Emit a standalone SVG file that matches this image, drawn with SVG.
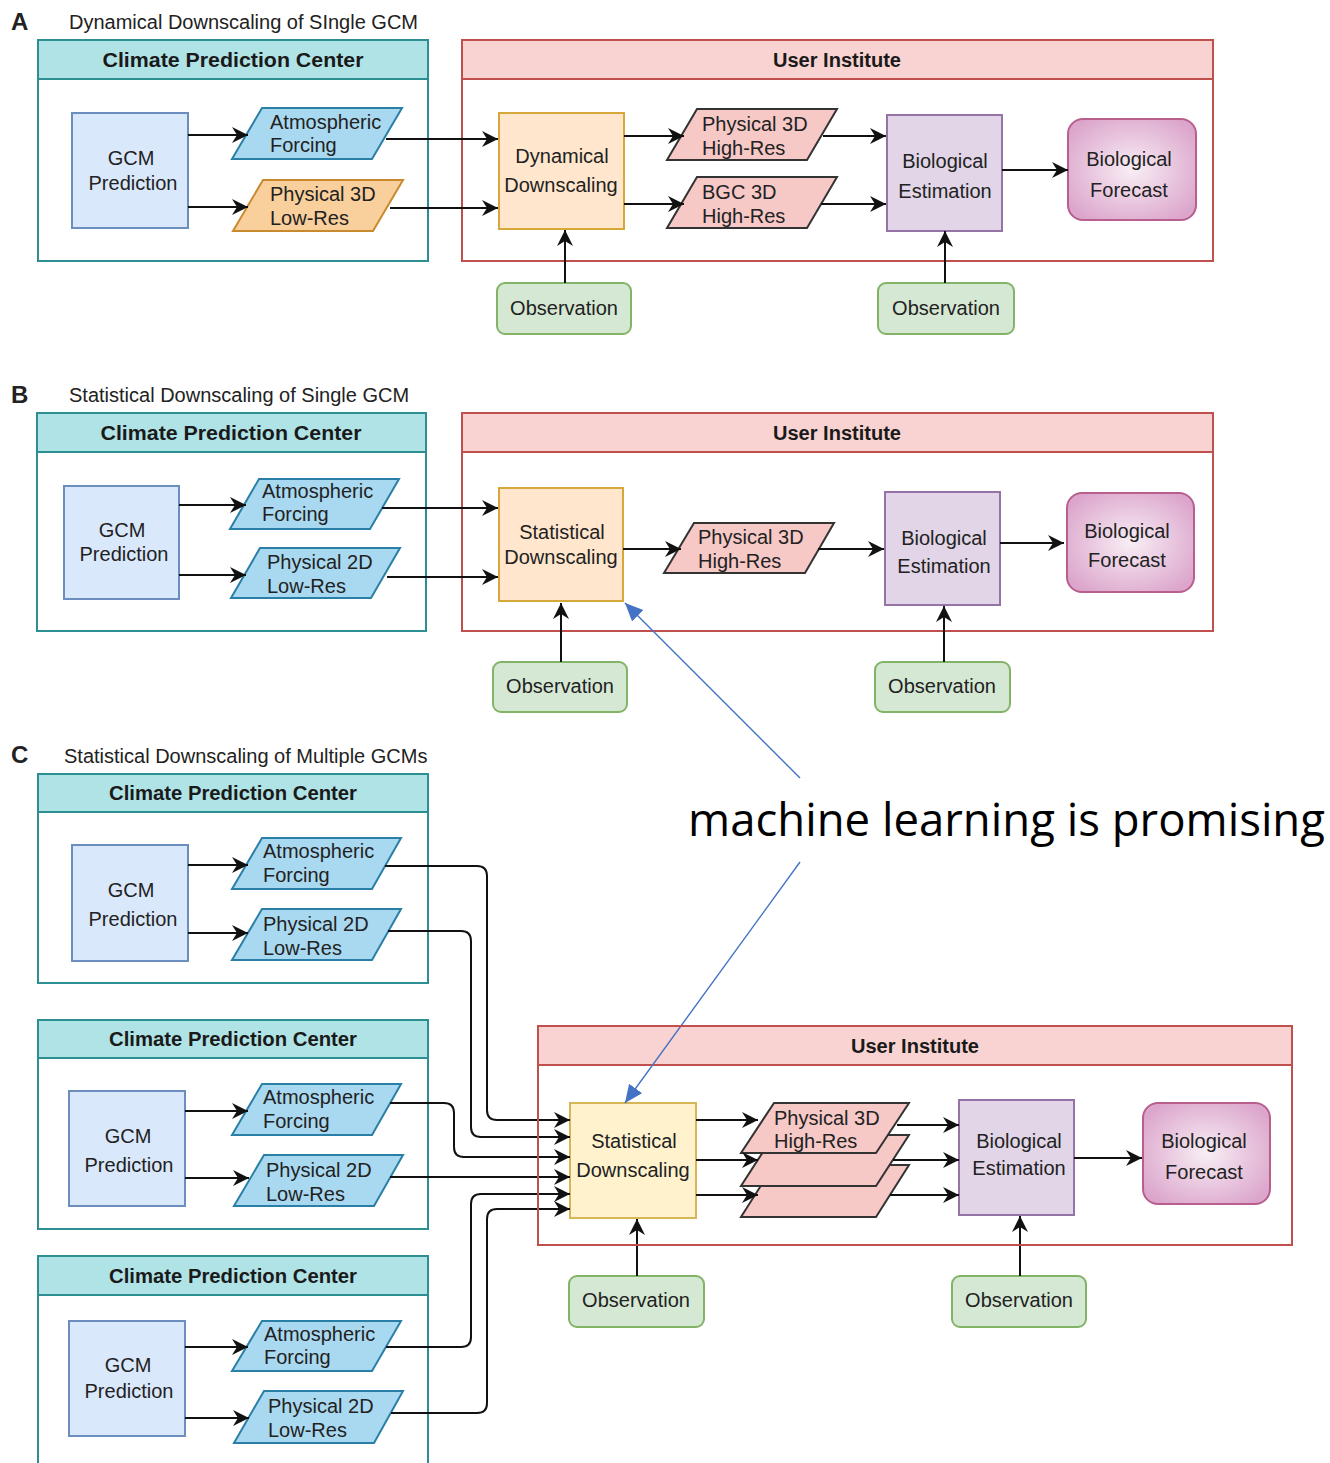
<svg xmlns="http://www.w3.org/2000/svg" width="1330" height="1463" viewBox="0 0 1330 1463">
<style>
.t{font-family:"Liberation Sans",Arial,sans-serif;font-size:20px;fill:#222}
.c{text-anchor:middle}
.hb{font-family:"Liberation Sans",Arial,sans-serif;font-size:20px;font-weight:bold;fill:#1a1a1a;text-anchor:middle}
.lt{font-family:"Liberation Sans",Arial,sans-serif;font-size:24px;font-weight:bold;fill:#222}
.cpch{fill:#b0e3e6;stroke:#2e8f92;stroke-width:2}
.cpcb{fill:#fff;stroke:#2e8f92;stroke-width:2}
.uih{fill:#f8d3d1;stroke:#c0504d;stroke-width:2}
.uib{fill:none;stroke:#c0504d;stroke-width:2}
.gcm{fill:#dae8fc;stroke:#6c8ebf;stroke-width:2}
.pb{fill:#a9d9f0;stroke:#2a7fa6;stroke-width:2}
.po{fill:#f9cf9c;stroke:#c88a2e;stroke-width:2}
.pp{fill:#f6c8c6;stroke:#333;stroke-width:2}
.dso{fill:#ffe6cc;stroke:#d6a83a;stroke-width:2}
.dsy{fill:#fff2cc;stroke:#d6b656;stroke-width:2}
.bio{fill:#e1d5e7;stroke:#9673a6;stroke-width:2}
.obs{fill:#d5e8d4;stroke:#82b366;stroke-width:2}
.fc{fill:url(#fcg);stroke:#b85f8e;stroke-width:2}
.e{fill:none;stroke:#111;stroke-width:2;marker-end:url(#ah)}
.bl{fill:none;stroke:#4472c4;stroke-width:1.4;marker-end:url(#bh)}
</style>
<defs>
<marker id="ah" markerUnits="userSpaceOnUse" markerWidth="17" markerHeight="16" refX="16" refY="8" orient="auto">
<path d="M0,0 L16,8 L0,16 L5,8 Z" fill="#111"/>
</marker>
<marker id="bh" markerUnits="userSpaceOnUse" markerWidth="20" markerHeight="18" refX="18" refY="8" orient="auto">
<path d="M0,0 L18,8 L0,16 Z" fill="#4472c4"/>
</marker>
<radialGradient id="fcg" cx="50%" cy="50%" r="60%">
<stop offset="0" stop-color="#f8eef5"/>
<stop offset="1" stop-color="#dca6cc"/>
</radialGradient>
</defs>
<rect width="1330" height="1463" fill="#fff"/>

<!-- Panel A -->
<g id="panelA-title">
<text class="lt" x="11" y="30">A</text>
<text class="t" x="69" y="29">Dynamical Downscaling of SIngle GCM</text>
</g>
<g id="A-cpc">
<rect class="cpcb" x="38" y="40" width="390" height="221"/>
<rect class="cpch" x="38" y="40" width="390" height="39"/>
<text class="hb" x="233" y="67" textLength="261" lengthAdjust="spacingAndGlyphs">Climate Prediction Center</text>
</g>
<g id="A-ui">
<rect class="uib" x="462" y="40" width="751" height="221"/>
<rect class="uih" x="462" y="40" width="751" height="39"/>
<text class="hb" x="837" y="67" textLength="128" lengthAdjust="spacingAndGlyphs">User Institute</text>
</g>
<g id="A-gcm"><rect class="gcm" x="72" y="113" width="116" height="115"/>
<text class="t c" x="131" y="165">GCM</text><text class="t c" x="133" y="190">Prediction</text></g>
<g id="A-atm"><polygon class="pb" points="262,108 402,108 372,159 232,159"/>
<text class="t" x="270" y="129">Atmospheric</text><text class="t" x="270" y="152">Forcing</text></g>
<g id="A-phys"><polygon class="po" points="263,180 403,180 373,231 233,231"/>
<text class="t" x="270" y="201">Physical 3D</text><text class="t" x="270" y="225">Low-Res</text></g>
<g id="A-dyn"><rect class="dso" x="499" y="113" width="125" height="116"/>
<text class="t c" x="562" y="163">Dynamical</text><text class="t c" x="561" y="192">Downscaling</text></g>
<g id="A-p3d"><polygon class="pp" points="697,109 837,109 807,160 667,160"/>
<text class="t" x="702" y="131">Physical 3D</text><text class="t" x="702" y="155">High-Res</text></g>
<g id="A-bgc"><polygon class="pp" points="697,177 837,177 807,228 667,228"/>
<text class="t" x="702" y="199">BGC 3D</text><text class="t" x="702" y="223">High-Res</text></g>
<g id="A-bio"><rect class="bio" x="887" y="115" width="115" height="116"/>
<text class="t c" x="945" y="168">Biological</text><text class="t c" x="945" y="198">Estimation</text></g>
<g id="A-fc"><rect class="fc" x="1068" y="119" width="128" height="101" rx="15"/>
<text class="t c" x="1129" y="166">Biological</text><text class="t c" x="1129" y="197">Forecast</text></g>
<g id="A-obs1"><rect class="obs" x="497" y="283" width="134" height="51" rx="8"/>
<text class="t c" x="564" y="315">Observation</text></g>
<g id="A-obs2"><rect class="obs" x="878" y="283" width="136" height="51" rx="8"/>
<text class="t c" x="946" y="315">Observation</text></g>

<!-- Panel B -->
<g id="panelB-title">
<text class="lt" x="11" y="403">B</text>
<text class="t" x="69" y="402">Statistical Downscaling of Single GCM</text>
</g>
<g id="B-cpc">
<rect class="cpcb" x="37" y="413" width="389" height="218"/>
<rect class="cpch" x="37" y="413" width="389" height="39"/>
<text class="hb" x="231" y="440" textLength="261" lengthAdjust="spacingAndGlyphs">Climate Prediction Center</text>
</g>
<g id="B-ui">
<rect class="uib" x="462" y="413" width="751" height="218"/>
<rect class="uih" x="462" y="413" width="751" height="39"/>
<text class="hb" x="837" y="440" textLength="128" lengthAdjust="spacingAndGlyphs">User Institute</text>
</g>
<g id="B-gcm"><rect class="gcm" x="64" y="486" width="115" height="113"/>
<text class="t c" x="122" y="537">GCM</text><text class="t c" x="124" y="561">Prediction</text></g>
<g id="B-atm"><polygon class="pb" points="259,479 399,479 370,529 230,529"/>
<text class="t" x="262" y="498">Atmospheric</text><text class="t" x="262" y="521">Forcing</text></g>
<g id="B-phys"><polygon class="pb" points="260,548 400,548 371,598 231,598"/>
<text class="t" x="267" y="569">Physical 2D</text><text class="t" x="267" y="593">Low-Res</text></g>
<g id="B-sds"><rect class="dso" x="499" y="488" width="124" height="113"/>
<text class="t c" x="562" y="539">Statistical</text><text class="t c" x="561" y="564">Downscaling</text></g>
<g id="B-p3d"><polygon class="pp" points="694,523 834,523 805,573 664,573"/>
<text class="t" x="698" y="544">Physical 3D</text><text class="t" x="698" y="568">High-Res</text></g>
<g id="B-bio"><rect class="bio" x="885" y="492" width="115" height="113"/>
<text class="t c" x="944" y="545">Biological</text><text class="t c" x="944" y="573">Estimation</text></g>
<g id="B-fc"><rect class="fc" x="1067" y="493" width="127" height="99" rx="15"/>
<text class="t c" x="1127" y="538">Biological</text><text class="t c" x="1127" y="567">Forecast</text></g>
<g id="B-obs1"><rect class="obs" x="493" y="662" width="134" height="50" rx="8"/>
<text class="t c" x="560" y="693">Observation</text></g>
<g id="B-obs2"><rect class="obs" x="875" y="662" width="135" height="50" rx="8"/>
<text class="t c" x="942" y="693">Observation</text></g>

<!-- Panel C -->
<g id="panelC-title">
<text class="lt" x="11" y="763">C</text>
<text class="t" x="64" y="763">Statistical Downscaling of Multiple GCMs</text>
</g>
<g id="C-cpc1">
<rect class="cpcb" x="38" y="774" width="390" height="209"/>
<rect class="cpch" x="38" y="774" width="390" height="38"/>
<text class="hb" x="233" y="800" textLength="248" lengthAdjust="spacingAndGlyphs">Climate Prediction Center</text>
</g>
<g id="C-gcm1"><rect class="gcm" x="72" y="845" width="116" height="116"/>
<text class="t c" x="131" y="897">GCM</text><text class="t c" x="133" y="926">Prediction</text></g>
<g id="C-atm1"><polygon class="pb" points="262,838 401,838 372,889 232,889"/>
<text class="t" x="263" y="858">Atmospheric</text><text class="t" x="263" y="882">Forcing</text></g>
<g id="C-phys1"><polygon class="pb" points="262,909 401,909 372,960 232,960"/>
<text class="t" x="263" y="931">Physical 2D</text><text class="t" x="263" y="955">Low-Res</text></g>

<g id="C-cpc2">
<rect class="cpcb" x="38" y="1020" width="390" height="209"/>
<rect class="cpch" x="38" y="1020" width="390" height="38"/>
<text class="hb" x="233" y="1046" textLength="248" lengthAdjust="spacingAndGlyphs">Climate Prediction Center</text>
</g>
<g id="C-gcm2"><rect class="gcm" x="69" y="1091" width="116" height="115"/>
<text class="t c" x="128" y="1143">GCM</text><text class="t c" x="129" y="1172">Prediction</text></g>
<g id="C-atm2"><polygon class="pb" points="262,1084 401,1084 372,1135 232,1135"/>
<text class="t" x="263" y="1104">Atmospheric</text><text class="t" x="263" y="1128">Forcing</text></g>
<g id="C-phys2"><polygon class="pb" points="264,1155 403,1155 374,1206 234,1206"/>
<text class="t" x="266" y="1177">Physical 2D</text><text class="t" x="266" y="1201">Low-Res</text></g>

<g id="C-cpc3">
<rect class="cpcb" x="38" y="1256" width="390" height="220"/>
<rect class="cpch" x="38" y="1256" width="390" height="39"/>
<text class="hb" x="233" y="1283" textLength="248" lengthAdjust="spacingAndGlyphs">Climate Prediction Center</text>
</g>
<g id="C-gcm3"><rect class="gcm" x="69" y="1321" width="116" height="115"/>
<text class="t c" x="128" y="1372">GCM</text><text class="t c" x="129" y="1398">Prediction</text></g>
<g id="C-atm3"><polygon class="pb" points="262,1321 401,1321 372,1371 232,1371"/>
<text class="t" x="264" y="1341">Atmospheric</text><text class="t" x="264" y="1364">Forcing</text></g>
<g id="C-phys3"><polygon class="pb" points="264,1391 403,1391 374,1443 234,1443"/>
<text class="t" x="268" y="1413">Physical 2D</text><text class="t" x="268" y="1437">Low-Res</text></g>

<g id="C-ui-head">
<rect class="uih" x="538" y="1026" width="754" height="39"/>
<text class="hb" x="915" y="1053" textLength="128" lengthAdjust="spacingAndGlyphs">User Institute</text>
</g>
<g id="C-sds"><rect class="dsy" x="570" y="1103" width="126" height="115"/>
<text class="t c" x="634" y="1148">Statistical</text><text class="t c" x="633" y="1177">Downscaling</text></g>
<g id="C-p3d-stack">
<polygon class="pp" points="774,1165 909,1165 876,1217 741,1217"/>
<polygon class="pp" points="774,1135 909,1135 876,1186 741,1186"/>
<polygon class="pp" points="774,1103 909,1103 876,1153 741,1153"/>
<text class="t" x="774" y="1125">Physical 3D</text><text class="t" x="774" y="1148">High-Res</text></g>
<g id="C-bio"><rect class="bio" x="959" y="1100" width="115" height="115"/>
<text class="t c" x="1019" y="1148">Biological</text><text class="t c" x="1019" y="1175">Estimation</text></g>
<g id="C-fc"><rect class="fc" x="1143" y="1103" width="127" height="101" rx="15"/>
<text class="t c" x="1204" y="1148">Biological</text><text class="t c" x="1204" y="1179">Forecast</text></g>
<g id="C-obs1"><rect class="obs" x="569" y="1276" width="135" height="51" rx="8"/>
<text class="t c" x="636" y="1307">Observation</text></g>
<g id="C-obs2"><rect class="obs" x="952" y="1276" width="134" height="51" rx="8"/>
<text class="t c" x="1019" y="1307">Observation</text></g>

<g id="connectors">
<!-- A -->
<path class="e" d="M188,135 H248"/>
<path class="e" d="M188,207 H248"/>
<path class="e" d="M386,139 H498"/>
<path class="e" d="M390,208 H498"/>
<path class="e" d="M624,136 H684"/>
<path class="e" d="M624,204 H684"/>
<path class="e" d="M823,136 H886"/>
<path class="e" d="M821,204 H886"/>
<path class="e" d="M1002,170 H1068"/>
<path class="e" d="M565,283 V230"/>
<path class="e" d="M945,283 V231"/>
<!-- B -->
<path class="e" d="M179,505 H246"/>
<path class="e" d="M179,575 H246"/>
<path class="e" d="M382,508 H498"/>
<path class="e" d="M387,577 H498"/>
<path class="e" d="M623,549 H681"/>
<path class="e" d="M818,549 H884"/>
<path class="e" d="M1000,543 H1064"/>
<path class="e" d="M561,662 V603"/>
<path class="e" d="M944,662 V606"/>
<!-- C -->
<path class="e" d="M188,865 H248"/>
<path class="e" d="M188,933 H248"/>
<path class="e" d="M185,1111 H248"/>
<path class="e" d="M185,1178 H249"/>
<path class="e" d="M185,1347 H248"/>
<path class="e" d="M185,1418 H249"/>
<path class="e" d="M385,866 H477 Q487,866 487,876 V1110 Q487,1120 497,1120 H570"/>
<path class="e" d="M388,931 H461 Q471,931 471,941 V1127 Q471,1137 481,1137 H570"/>
<path class="e" d="M390,1103 H444 Q454,1103 454,1113 V1147 Q454,1157 464,1157 H570"/>
<path class="e" d="M390,1177 H570"/>
<path class="e" d="M386,1347 H461 Q471,1347 471,1337 V1204 Q471,1194 481,1194 H570"/>
<path class="e" d="M391,1413 H477 Q487,1413 487,1403 V1219 Q487,1209 497,1209 H570"/>
<path class="e" d="M696,1120 H758"/>
<path class="e" d="M696,1160 H758"/>
<path class="e" d="M696,1195 H758"/>
<path class="e" d="M897,1125 H959"/>
<path class="e" d="M893,1160 H959"/>
<path class="e" d="M890,1195 H959"/>
<path class="e" d="M1074,1158 H1142"/>
<path class="e" d="M637,1276 V1219"/>
<path class="e" d="M1020,1276 V1216"/>
<!-- annotation arrows -->
<path class="bl" d="M800,778 L625,603"/>
<path class="bl" d="M800,862 L625,1103"/>
</g>
<g id="C-ui-frame">
<rect class="uib" x="538" y="1026" width="754" height="219"/>
</g>
<g id="annotation">
<text x="688" y="836" font-family="'Open Sans','Noto Sans',sans-serif" font-size="46" fill="#000" textLength="637" lengthAdjust="spacingAndGlyphs">machine learning is promising</text>
</g>
</svg>
